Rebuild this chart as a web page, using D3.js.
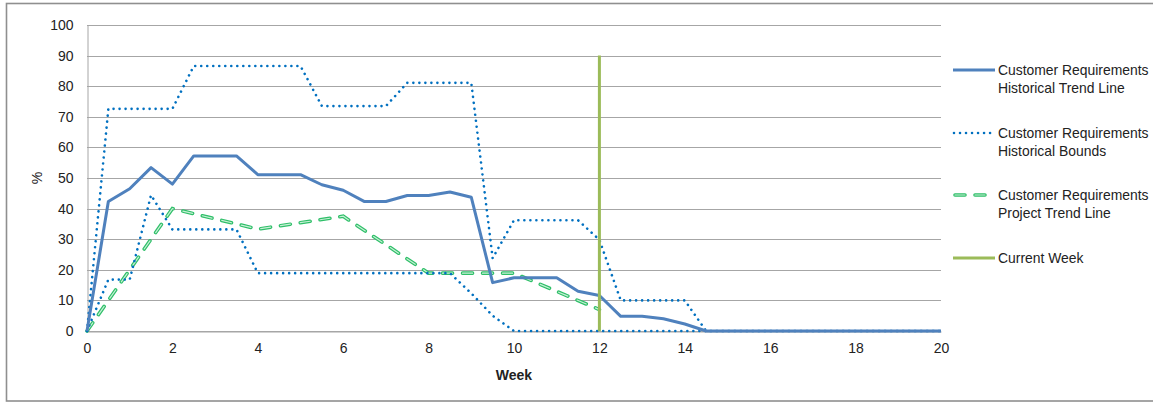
<!DOCTYPE html>
<html>
<head>
<meta charset="utf-8">
<script src="https://cdn.jsdelivr.net/npm/d3@7"></script>
<style>
  html, body { margin: 0; padding: 0; background: #fff; }
  svg { display: block; font-family: "Liberation Sans", Arial, sans-serif; }
</style>
</head>
<body>
<svg id="chart" width="1153" height="402"></svg>
<script>
// Weekly sample points (half-week spacing)
const weeks = [0, 0.5, 1, 1.5, 2, 2.5, 3, 3.5, 4, 4.5, 5, 5.5, 6, 6.5, 7, 7.5, 8, 8.5, 9, 9.5,
               10, 10.5, 11, 11.5, 12, 12.5, 13, 13.5, 14, 14.5, 15, 15.5, 16, 16.5, 17, 17.5, 18, 18.5, 19, 19.5, 20];

// Customer requirements – historical trend line (%)
const historicalTrend = [0, 42.3, 46.5, 53.4, 48, 57.2, 57.2, 57.2, 51.1, 51.1, 51.1, 47.8, 46, 42.3, 42.3, 44.3, 44.3, 45.4, 43.7, 15.8,
                         17.4, 17.4, 17.4, 13, 11.6, 4.8, 4.8, 4.0, 2.3, 0, 0, 0, 0, 0, 0, 0, 0, 0, 0, 0, 0];

// Customer requirements – historical bounds (%)
const upperBound = [0, 72.6, 72.6, 72.6, 72.6, 86.6, 86.6, 86.6, 86.6, 86.6, 86.6, 73.5, 73.5, 73.5, 73.5, 81.1, 81.1, 81.1, 81.1, 23.8,
                    36.2, 36.2, 36.2, 36.2, 29.8, 10, 10, 10, 10, 0, 0, 0, 0, 0, 0, 0, 0, 0, 0, 0, 0];
const lowerBound = [0, 16.8, 16.8, 44.4, 33.2, 33.2, 33.2, 33.2, 18.9, 18.9, 18.9, 18.9, 18.9, 18.9, 18.9, 18.9, 18.9, 18.9, 12.3, 5,
                    0, 0, 0, 0, 0, 0, 0, 0, 0, 0, 0, 0, 0, 0, 0, 0, 0, 0, 0, 0, 0];

// Customer requirements – project trend line (%)
const projectWeeks = [0, 2, 4, 6, 8, 10, 12];
const projectTrend = [0, 40, 33.3, 37.5, 18.9, 18.9, 7];

// Current week marker
const currentWeek = 12;
const currentWeekTop = 90;

// Axis ticks
const xTicks = [0, 2, 4, 6, 8, 10, 12, 14, 16, 18, 20];
const yTicks = [0, 10, 20, 30, 40, 50, 60, 70, 80, 90, 100];

const legendLabels = [
  ["Customer Requirements", "Historical Trend Line"],
  ["Customer Requirements", "Historical Bounds"],
  ["Customer Requirements", "Project Trend Line"],
  ["Current Week"]
];

const svg = d3.select("#chart");

// Chart frame
svg.append("rect")
  .attr("x", 6.5).attr("y", 3.5)
  .attr("width", 1160).attr("height", 397.5)
  .attr("fill", "#fff")
  .attr("stroke", "#8f8f8f")
  .attr("stroke-width", 1.6);

const x = d3.scaleLinear().domain([0, 20]).range([87, 941]);
const y = d3.scaleLinear().domain([0, 100]).range([331, 25]);

// Horizontal gridlines
svg.append("g")
  .selectAll("line")
  .data(yTicks)
  .join("line")
  .attr("x1", x(0)).attr("x2", x(20))
  .attr("y1", d => Math.round(y(d)) + 0.5)
  .attr("y2", d => Math.round(y(d)) + 0.5)
  .attr("stroke", "#a6a6a6")
  .attr("stroke-width", 1);

// Y axis
const yAxis = svg.append("g")
  .attr("transform", `translate(${x(0) + 0.5},0)`)
  .call(d3.axisLeft(y).tickValues(yTicks).tickSize(0).tickPadding(14));
yAxis.select(".domain").attr("stroke", "#a6a6a6");
yAxis.selectAll("text").attr("font-size", 14).attr("fill", "#222")
  .attr("font-family", "'Liberation Sans', Arial, sans-serif");

// X axis
const xAxis = svg.append("g")
  .attr("transform", `translate(0,${Math.round(y(0)) + 0.5})`)
  .call(d3.axisBottom(x).tickValues(xTicks).tickFormat(d3.format("d")).tickSize(0).tickPadding(12));
xAxis.select(".domain").attr("stroke", "#a6a6a6");
xAxis.selectAll("text").attr("font-size", 14).attr("fill", "#222")
  .attr("font-family", "'Liberation Sans', Arial, sans-serif");

// Axis titles
svg.append("text")
  .attr("x", (x(0) + x(20)) / 2).attr("y", 380)
  .attr("text-anchor", "middle")
  .attr("font-size", 14).attr("font-weight", "bold").attr("fill", "#222")
  .text("Week");

svg.append("text")
  .attr("transform", "translate(42,178) rotate(-90)")
  .attr("text-anchor", "middle")
  .attr("font-size", 14).attr("fill", "#222")
  .text("%");

const line = d3.line().x(d => x(d[0])).y(d => y(d[1]));
const zipSeries = (xs, ys) => xs.map((w, i) => [w, ys[i]]);

// Styles for each series
function dotted(sel) {
  return sel.attr("fill", "none").attr("stroke", "#0070c0").attr("stroke-width", 2.6)
    .attr("stroke-linecap", "round").attr("stroke-dasharray", "0.01 6");
}
function solidTrend(sel) {
  return sel.attr("fill", "none").attr("stroke", "#4f81bd").attr("stroke-width", 3)
    .attr("stroke-linejoin", "round");
}
function dashedOuter(sel) {
  return sel.attr("fill", "none").attr("stroke", "#2fbf69").attr("stroke-width", 3.6)
    .attr("stroke-linecap", "round").attr("stroke-dasharray", "10 10");
}
function dashedInner(sel) {
  return sel.attr("fill", "none").attr("stroke", "#c8f0d6").attr("stroke-width", 1.2)
    .attr("stroke-linecap", "round").attr("stroke-dasharray", "10 10");
}

const plot = svg.append("g");

// Project trend line (double-stroked dashes)
const projData = zipSeries(projectWeeks, projectTrend);
plot.append("path").datum(projData).attr("d", line).call(dashedOuter);
plot.append("path").datum(projData).attr("d", line).call(dashedInner);

// Historical bounds
plot.append("path").datum(zipSeries(weeks, upperBound)).attr("d", line).call(dotted);
plot.append("path").datum(zipSeries(weeks, lowerBound)).attr("d", line).call(dotted);

// Historical trend
plot.append("path").datum(zipSeries(weeks, historicalTrend)).attr("d", line).call(solidTrend);

// Current week
plot.append("line")
  .attr("x1", x(currentWeek)).attr("x2", x(currentWeek))
  .attr("y1", y(0)).attr("y2", y(currentWeekTop))
  .attr("stroke", "#9bbb59").attr("stroke-width", 3);

// Legend
const legendY = [70, 133, 195, 258];
const legend = svg.append("g");
legendLabels.forEach((lines, i) => {
  const ly = legendY[i];
  const seg = [[953, ly], [995, ly]];
  const segLine = d3.line();
  if (i === 0) legend.append("path").attr("d", segLine(seg)).call(solidTrend);
  if (i === 1) legend.append("path").attr("d", segLine([[954, ly], [993, ly]])).call(dotted);
  if (i === 2) {
    legend.append("path").attr("d", segLine([[955, ly], [995, ly]])).call(dashedOuter);
    legend.append("path").attr("d", segLine([[955, ly], [995, ly]])).call(dashedInner);
  }
  if (i === 3) legend.append("path").attr("d", segLine(seg))
    .attr("stroke", "#9bbb59").attr("stroke-width", 3).attr("fill", "none");
  const t = legend.append("text")
    .attr("x", 998).attr("y", ly + 5)
    .attr("font-size", 13.9).attr("fill", "#222");
  lines.forEach((s, j) => {
    t.append("tspan").attr("x", 998).attr("dy", j === 0 ? 0 : 18.3).text(s);
  });
});
</script>
</body>
</html>
